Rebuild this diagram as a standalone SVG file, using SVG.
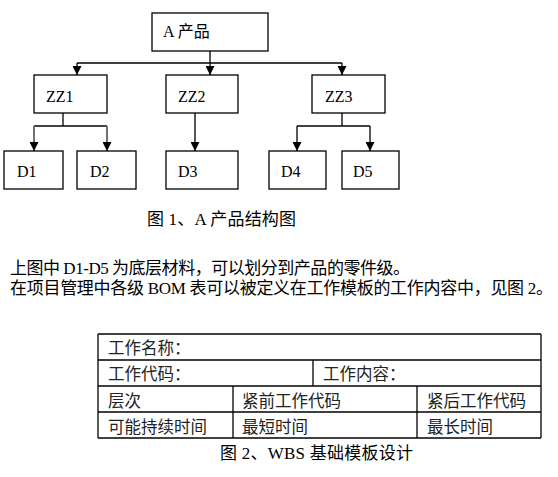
<svg xmlns="http://www.w3.org/2000/svg" width="558" height="477" viewBox="0 0 558 477">
<style>
  text { font-family: "Liberation Serif", "Noto Sans CJK SC", serif; fill: #000; }
  .node rect { fill: #fff; stroke: #000; stroke-width: 1.3; }
  .lbl { font-size: 16px; }
  .conn line { stroke: #000; stroke-width: 1.3; }
  .conn .g { stroke: #707070; stroke-width: 2; }
  .conn .g2 { stroke: #555; stroke-width: 2; }
  .body { font-size: 17px; }
  .tbl line { stroke: #000; stroke-width: 1.3; }
  .cell { font-size: 16.5px; fill: #222; }
</style>
<defs>
  <marker id="arr" viewBox="0 0 10 10" refX="10" refY="5" markerWidth="10" markerHeight="9" markerUnits="userSpaceOnUse" orient="auto">
    <path d="M0,0 L10,5 L0,10 z" fill="#000"/>
  </marker>
</defs>
<rect width="558" height="477" fill="#fff"/>

<g id="connectors" class="conn">
  <line x1="210" y1="51" x2="210" y2="63"/>
  <line x1="77" y1="63" x2="342" y2="63"/>
  <line x1="77" y1="63" x2="77" y2="75" marker-end="url(#arr)"/>
  <line x1="210" y1="63" x2="210" y2="75" marker-end="url(#arr)"/>
  <line x1="342" y1="63" x2="342" y2="75" marker-end="url(#arr)"/>
  <line x1="63" y1="113" x2="63" y2="126"/>
  <line x1="34" y1="126" x2="107" y2="126"/>
  <line class="g" x1="34" y1="126" x2="34" y2="151" marker-end="url(#arr)"/>
  <line class="g" x1="107" y1="126" x2="107" y2="151" marker-end="url(#arr)"/>
  <line class="g2" x1="195" y1="113" x2="195" y2="151" marker-end="url(#arr)"/>
  <line x1="342" y1="113" x2="342" y2="126"/>
  <line x1="297" y1="126" x2="370" y2="126"/>
  <line x1="297" y1="126" x2="297" y2="151" marker-end="url(#arr)"/>
  <line x1="370" y1="126" x2="370" y2="151" marker-end="url(#arr)"/>
</g>

<g id="node-A" class="node"><rect x="152" y="13" width="116" height="38"/><text class="lbl" x="163" y="37">A 产品</text></g>
<g id="node-ZZ1" class="node"><rect x="34" y="75" width="73" height="38"/><text class="lbl" x="46" y="102">ZZ1</text></g>
<g id="node-ZZ2" class="node"><rect x="166" y="75" width="72" height="38"/><text class="lbl" x="178" y="102">ZZ2</text></g>
<g id="node-ZZ3" class="node"><rect x="312" y="75" width="73" height="38"/><text class="lbl" x="325" y="102">ZZ3</text></g>
<g id="node-D1" class="node"><rect x="4" y="151" width="59" height="38"/><text class="lbl" x="17" y="177">D1</text></g>
<g id="node-D2" class="node"><rect x="77" y="151" width="59" height="38"/><text class="lbl" x="90" y="177">D2</text></g>
<g id="node-D3" class="node"><rect x="166" y="151" width="72" height="38"/><text class="lbl" x="178" y="177">D3</text></g>
<g id="node-D4" class="node"><rect x="269" y="151" width="57" height="38"/><text class="lbl" x="281" y="177">D4</text></g>
<g id="node-D5" class="node"><rect x="342" y="151" width="57" height="38"/><text class="lbl" x="353" y="177">D5</text></g>

<text class="body" x="147" y="225" textLength="149">图 1、A 产品结构图</text>
<text class="body" x="10" y="274" textLength="400">上图中 D1-D5 为底层材料，可以划分到产品的零件级。</text>
<text class="body" x="10" y="294" textLength="543">在项目管理中各级 BOM 表可以被定义在工作模板的工作内容中，见图 2。</text>

<g id="table" class="tbl">
  <line x1="98" y1="334" x2="541" y2="334"/>
  <line x1="98" y1="360" x2="541" y2="360"/>
  <line x1="98" y1="386" x2="541" y2="386"/>
  <line x1="98" y1="412" x2="541" y2="412"/>
  <line x1="98" y1="438" x2="541" y2="438"/>
  <line x1="98" y1="334" x2="98" y2="438"/>
  <line x1="541" y1="334" x2="541" y2="438"/>
  <line x1="313" y1="360" x2="313" y2="386"/>
  <line x1="233" y1="386" x2="233" y2="438"/>
  <line x1="417" y1="386" x2="417" y2="438"/>
  <text class="cell" x="108" y="354">工作名称：</text>
  <text class="cell" x="108" y="380">工作代码：</text>
  <text class="cell" x="323" y="380">工作内容：</text>
  <text class="cell" x="108" y="407">层次</text>
  <text class="cell" x="242" y="407">紧前工作代码</text>
  <text class="cell" x="427" y="407">紧后工作代码</text>
  <text class="cell" x="108" y="433">可能持续时间</text>
  <text class="cell" x="242" y="433">最短时间</text>
  <text class="cell" x="427" y="433">最长时间</text>
</g>
<text class="body" x="220" y="459" textLength="193">图 2、WBS 基础模板设计</text>
</svg>
